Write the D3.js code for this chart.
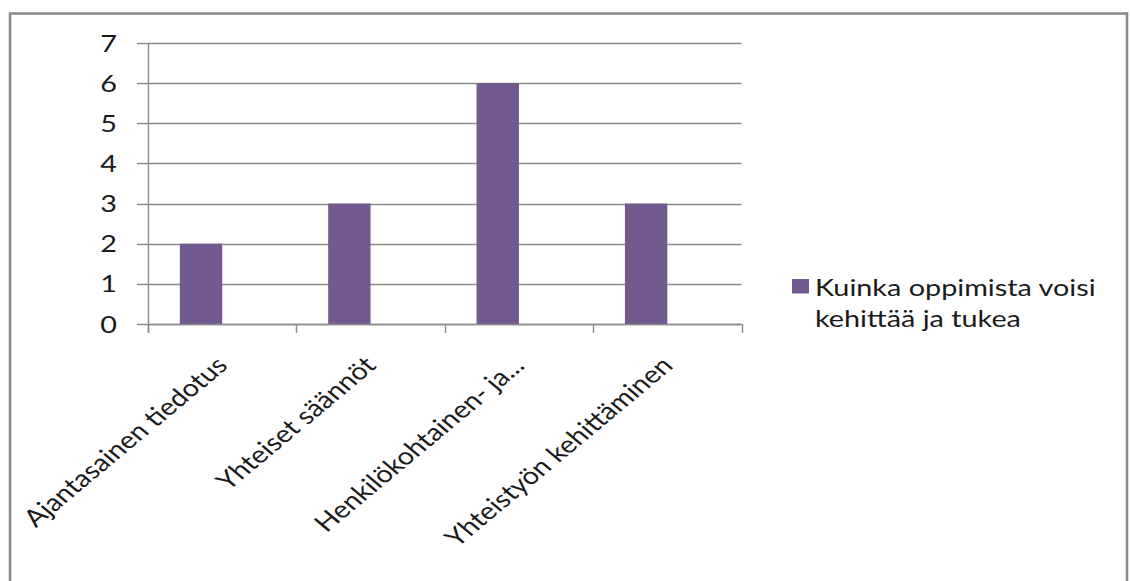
<!DOCTYPE html>
<html>
<head>
<meta charset="utf-8">
<script src="https://cdn.jsdelivr.net/npm/d3@7"></script>
<style>
  html, body { margin: 0; padding: 0; background: #ffffff; }
  svg { display: block; }
  text { font-family: "Lato", "Liberation Sans", sans-serif; fill: #1a1a1a; }
</style>
</head>
<body>
<svg id="chart" width="1130" height="581"></svg>
<script>
// Chart data
const categories = [
  "Ajantasainen tiedotus",
  "Yhteiset säännöt",
  "Henkilökohtainen- ja...",
  "Yhteistyön kehittäminen"
];
const values = [2, 3, 6, 3];
const seriesName = "Kuinka oppimista voisi kehittää ja tukea";
const legendLines = ["Kuinka oppimista voisi", "kehittää ja tukea"];
const yTicks = [0, 1, 2, 3, 4, 5, 6, 7];

// Layout
const W = 1130, H = 581;
const plot = { left: 148, right: 741.5, top: 43, bottom: 324 };
const sx = 1.2;            // horizontal stretch applied to the text glyphs
const fontSize = 24;
const barColor = "#725a8e";
const gridColor = "#8c8c8c";

const svg = d3.select("#chart");

// Outer chart frame
svg.append("rect")
  .attr("x", 10).attr("y", 13.5)
  .attr("width", 1117).attr("height", 700)
  .attr("fill", "#ffffff")
  .attr("stroke", "#8a8a8a")
  .attr("stroke-width", 2.6);

const x = d3.scaleBand().domain(categories).range([plot.left, plot.right]).padding(0);
const y = d3.scaleLinear().domain([0, 7]).range([plot.bottom, plot.top]);

// Horizontal gridlines (with the tick stubs to the left of the axis)
svg.append("g")
  .selectAll("line")
  .data(yTicks)
  .join("line")
  .attr("x1", plot.left - 11)
  .attr("x2", plot.right)
  .attr("y1", d => Math.round(y(d)) + 0.5)
  .attr("y2", d => Math.round(y(d)) + 0.5)
  .attr("stroke", gridColor)
  .attr("stroke-width", 1.4);

// Bars: clustered layout with gap width 150%, one bar per category
const bw = x.bandwidth();
const barW = bw / 3.5;
const barOff = bw * 0.75 / 3.5;
svg.append("g")
  .selectAll("rect")
  .data(values)
  .join("rect")
  .attr("x", (d, i) => x(categories[i]) + barOff)
  .attr("y", d => y(d))
  .attr("width", barW)
  .attr("height", d => y(0) - y(d))
  .attr("fill", barColor);

// Value axis line
svg.append("line")
  .attr("x1", plot.left + 0.5).attr("x2", plot.left + 0.5)
  .attr("y1", plot.top).attr("y2", plot.bottom + 9)
  .attr("stroke", gridColor).attr("stroke-width", 1.4);

// Category axis line and tick marks
svg.append("line")
  .attr("x1", plot.left).attr("x2", plot.right)
  .attr("y1", Math.round(y(0)) + 0.5).attr("y2", Math.round(y(0)) + 0.5)
  .attr("stroke", gridColor).attr("stroke-width", 1.4);
const catTicks = categories.map(c => x(c)).concat([plot.right]);
svg.append("g")
  .selectAll("line")
  .data(catTicks)
  .join("line")
  .attr("x1", d => Math.round(d) + 0.5).attr("x2", d => Math.round(d) + 0.5)
  .attr("y1", plot.bottom).attr("y2", plot.bottom + 9)
  .attr("stroke", gridColor).attr("stroke-width", 1.4);

// Value tick labels
svg.append("g")
  .selectAll("text")
  .data(yTicks)
  .join("text")
  .attr("transform", d => `translate(${plot.left - 31},${y(d) + 8.5}) scale(${sx},1)`)
  .attr("text-anchor", "end")
  .attr("font-size", fontSize)
  .text(d => d);

// Category labels, rotated 45 degrees, ending under each category centre
svg.append("g")
  .selectAll("text")
  .data(categories)
  .join("text")
  .attr("transform", c => `translate(${x(c) + bw / 2 + 7},${plot.bottom + 43}) scale(${sx},1) rotate(-45)`)
  .attr("text-anchor", "end")
  .attr("font-size", fontSize)
  .text(c => c);

// Legend
const legend = svg.append("g").attr("transform", "translate(792,279)");
legend.append("rect")
  .attr("x", 0).attr("y", 0)
  .attr("width", 17).attr("height", 14.5)
  .attr("fill", barColor);
legend.selectAll("text")
  .data(legendLines)
  .join("text")
  .attr("transform", (d, i) => `translate(23,${16.5 + i * 31.5}) scale(${sx},1)`)
  .attr("font-size", fontSize)
  .text(d => d);
</script>
</body>
</html>
